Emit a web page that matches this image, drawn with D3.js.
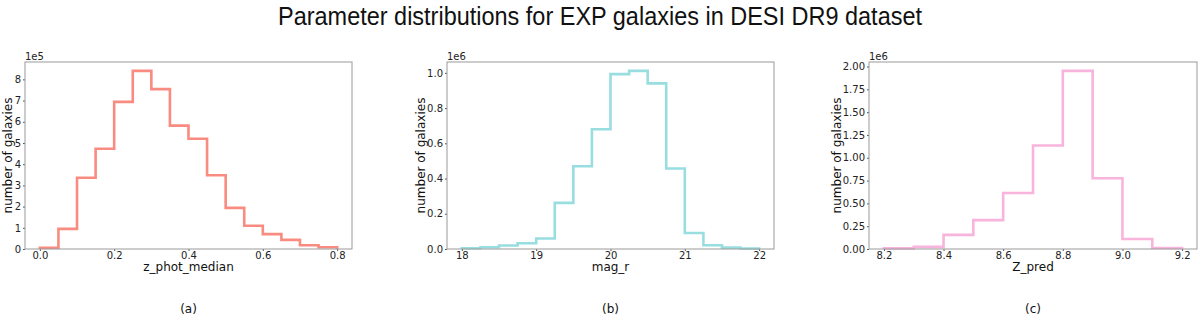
<!DOCTYPE html>
<html>
<head>
<meta charset="utf-8">
<script src="https://cdn.jsdelivr.net/npm/d3@7"></script>
<style>
  body { margin: 0; background: #fff; }
  svg { display: block; }
</style>
</head>
<body>
<svg width="1200" height="319"></svg>
<script>
// histogram data
const zPhotEdges = [0, 0.05, 0.1, 0.15, 0.2, 0.25, 0.3, 0.35, 0.4, 0.45, 0.5, 0.55, 0.6, 0.65, 0.7, 0.75, 0.8];
const zPhotCounts = [6e3, 95e3, 336e3, 473e3, 694e3, 840e3, 754e3, 582e3, 520e3, 348e3, 194e3, 110e3, 70e3, 43e3, 18e3, 8e3];

const magREdges = [18, 18.25, 18.5, 18.75, 19, 19.25, 19.5, 19.75, 20, 20.25, 20.5, 20.75, 21, 21.25, 21.5, 21.75, 22];
const magRCounts = [4e3, 10e3, 20e3, 33e3, 60e3, 262e3, 470e3, 680e3, 993e3, 1011e3, 940e3, 457e3, 91e3, 21e3, 8e3, 3e3];

const zPredEdges = [8.2, 8.3, 8.4, 8.5, 8.6, 8.7, 8.8, 8.9, 9.0, 9.1, 9.2];
const zPredCounts = [7e3, 23e3, 155e3, 316e3, 613e3, 1134e3, 1952e3, 775e3, 110e3, 11e3];

const zPhotXTicks = [0, 0.2, 0.4, 0.6, 0.8];
const zPhotYTicks = [0, 1, 2, 3, 4, 5, 6, 7, 8];
const magRXTicks = [18, 19, 20, 21, 22];
const magRYTicks = [0, 0.2, 0.4, 0.6, 0.8, 1.0];
const zPredXTicks = [8.2, 8.4, 8.6, 8.8, 9.0, 9.2];
const zPredYTicks = [0, 0.25, 0.5, 0.75, 1.0, 1.25, 1.5, 1.75, 2.0];

const panels = [
  { edges: zPhotEdges, counts: zPhotCounts, xTicks: zPhotXTicks, yTicks: zPhotYTicks,
    scale: 1e5, offset: "1e5", xFmt: d3.format(".1f"), yFmt: d3.format("d"),
    xLabel: "z_phot_median", caption: "(a)", color: "#f98b80", left: 25, right: 352, labelX: 12 },
  { edges: magREdges, counts: magRCounts, xTicks: magRXTicks, yTicks: magRYTicks,
    scale: 1e6, offset: "1e6", xFmt: d3.format("d"), yFmt: d3.format(".1f"),
    xLabel: "mag_r", caption: "(b)", color: "#98dde0", left: 447, right: 774, labelX: 425 },
  { edges: zPredEdges, counts: zPredCounts, xTicks: zPredXTicks, yTicks: zPredYTicks,
    scale: 1e6, offset: "1e6", xFmt: d3.format(".1f"), yFmt: d3.format(".2f"),
    xLabel: "Z_pred", caption: "(c)", color: "#f8b4dc", left: 869, right: 1197, labelX: 841 }
];

const plotTop = 62, plotBottom = 249;
const tickFont = "DejaVu Sans, sans-serif";

const svg = d3.select("svg");

svg.append("text")
  .attr("x", 600)
  .attr("y", 25)
  .attr("text-anchor", "middle")
  .attr("textLength", 644)
  .attr("lengthAdjust", "spacingAndGlyphs")
  .style("font-family", "Liberation Sans, Arial, sans-serif")
  .style("font-size", "25px")
  .style("fill", "#111")
  .text("Parameter distributions for EXP galaxies in DESI DR9 dataset");

panels.forEach((p) => {
  const lo = p.edges[0], hi = p.edges[p.edges.length - 1];
  const pad = (hi - lo) * 0.05;
  const yMax = d3.max(p.counts) / p.scale * 1.05;

  const x = d3.scaleLinear().domain([lo - pad, hi + pad]).range([p.left, p.right]);
  const y = d3.scaleLinear().domain([0, yMax]).range([plotBottom, plotTop]);

  const g = svg.append("g");

  // step outline
  const pts = [[lo, 0]];
  p.counts.forEach((c, i) => {
    pts.push([p.edges[i], c / p.scale]);
    pts.push([p.edges[i + 1], c / p.scale]);
  });
  pts.push([hi, 0]);

  g.append("path")
    .datum(pts)
    .attr("fill", "none")
    .attr("stroke", p.color)
    .attr("stroke-width", 2.6)
    .attr("d", d3.line().x((d) => x(d[0])).y((d) => y(d[1])));

  // axes
  const xAxis = g.append("g")
    .attr("transform", `translate(0,${plotBottom})`)
    .call(d3.axisBottom(x).tickValues(p.xTicks).tickFormat(p.xFmt).tickSize(2).tickPadding(1));
  const yAxis = g.append("g")
    .attr("transform", `translate(${p.left},0)`)
    .call(d3.axisLeft(y).tickValues(p.yTicks).tickFormat(p.yFmt).tickSize(2).tickPadding(2));

  [xAxis, yAxis].forEach((a) => {
    a.select(".domain").remove();
    a.selectAll("line").attr("stroke", "#555");
    a.selectAll("text")
      .style("font-family", tickFont)
      .style("font-size", "10px")
      .style("fill", "#222");
  });

  // frame
  g.append("rect")
    .attr("x", p.left)
    .attr("y", plotTop)
    .attr("width", p.right - p.left)
    .attr("height", plotBottom - plotTop)
    .attr("fill", "none")
    .attr("stroke", "#9a9a9a")
    .attr("stroke-width", 1);

  g.append("text")
    .attr("x", p.left)
    .attr("y", plotTop - 2)
    .style("font-family", tickFont)
    .style("font-size", "10px")
    .style("fill", "#222")
    .text(p.offset);

  g.append("text")
    .attr("transform", `translate(${p.labelX},${(plotTop + plotBottom) / 2}) rotate(-90)`)
    .attr("text-anchor", "middle")
    .style("font-family", tickFont)
    .style("font-size", "12px")
    .style("fill", "#111")
    .text("number of galaxies");

  const mid = (p.left + p.right) / 2;
  g.append("text")
    .attr("x", mid)
    .attr("y", 271)
    .attr("text-anchor", "middle")
    .style("font-family", tickFont)
    .style("font-size", "12px")
    .style("fill", "#111")
    .text(p.xLabel);

  g.append("text")
    .attr("x", mid)
    .attr("y", 313)
    .attr("text-anchor", "middle")
    .style("font-family", tickFont)
    .style("font-size", "12px")
    .style("fill", "#111")
    .text(p.caption);
});
</script>
</body>
</html>
